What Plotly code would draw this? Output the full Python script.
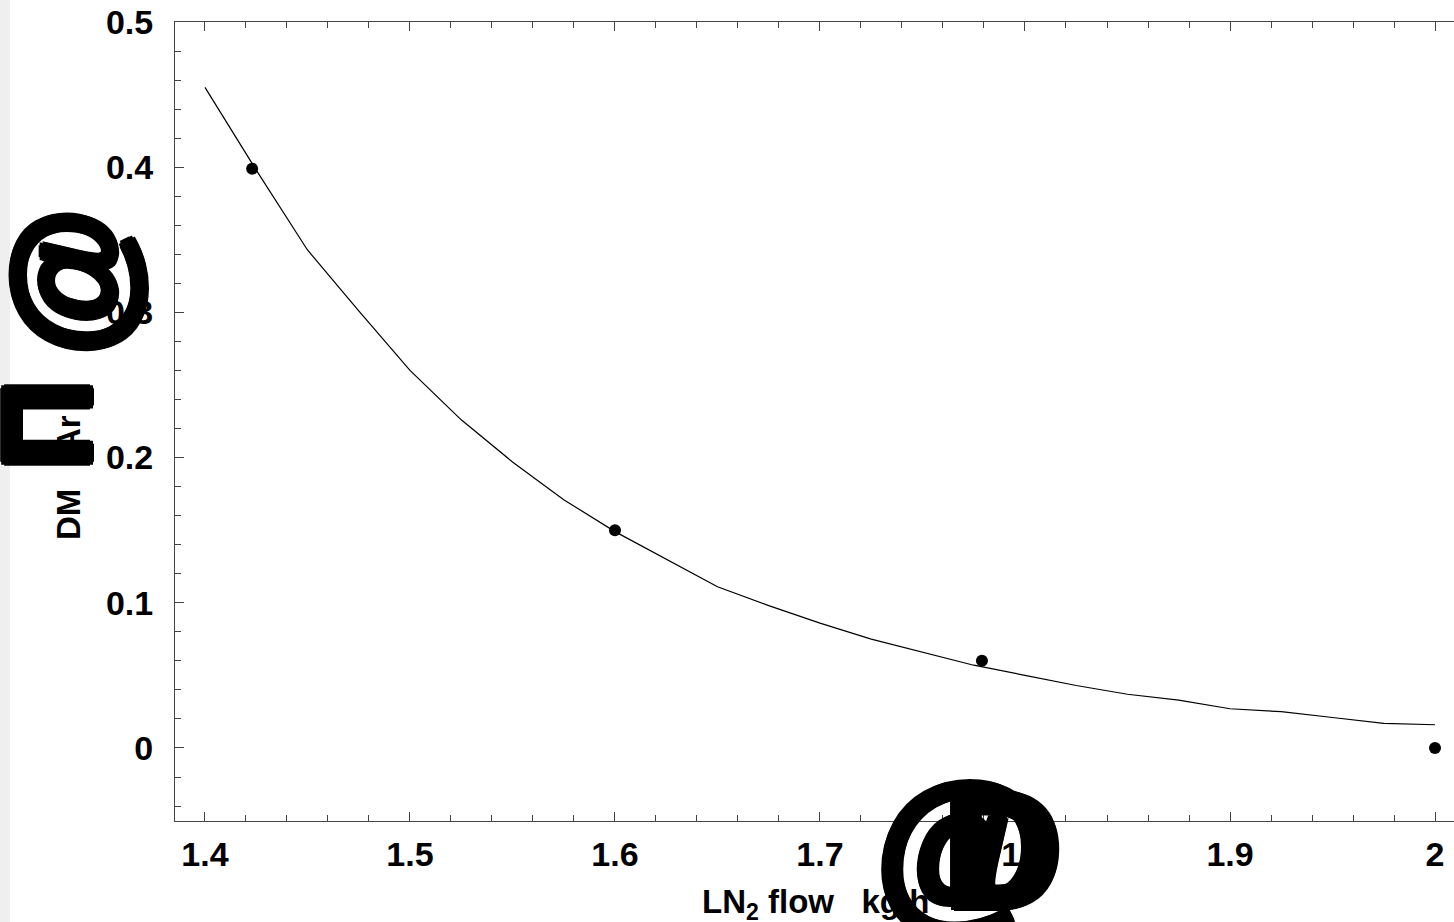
import plotly.graph_objects as go

# measured data points
pts_x = [1.423, 1.600, 1.779, 2.000]
pts_y = [0.399, 0.150, 0.060, 0.000]

# fitted curve samples
curve_x = [1.400, 1.425, 1.450, 1.475, 1.500, 1.525, 1.550, 1.575, 1.600, 1.625,
           1.650, 1.675, 1.700, 1.725, 1.750, 1.775, 1.800, 1.825, 1.850, 1.875,
           1.900, 1.925, 1.950, 1.975, 2.000]
curve_y = [0.455, 0.398, 0.343, 0.301, 0.260, 0.226, 0.197, 0.171, 0.149, 0.130,
           0.111, 0.098, 0.086, 0.075, 0.066, 0.057, 0.050, 0.043, 0.037, 0.033,
           0.027, 0.025, 0.021, 0.017, 0.016]

x_ticks = [1.4, 1.5, 1.6, 1.7, 1.8, 1.9, 2.0]
x_labels = ["1.4", "1.5", "1.6", "1.7", "1.8", "1.9", "2"]
y_ticks = [0, 0.1, 0.2, 0.3, 0.4, 0.5]
y_labels = ["0", "0.1", "0.2", "0.3", "0.4", "0.5"]

W, H = 1454, 922
L, R, T, B = 175, 0, 22, 101
PW, PH = W - L - R, H - T - B

def px(xp):
    return (xp - L) / PW

def py(yp):
    return (H - B - yp) / PH

FONT = "Liberation Sans, Arial, sans-serif"
THICK = ("4px 0 0 #000, -4px 0 0 #000, 0 4px 0 #000, 0 -4px 0 #000, "
         "3px 3px 0 #000, -3px -3px 0 #000, 3px -3px 0 #000, -3px 3px 0 #000")

fig = go.Figure()
fig.add_trace(go.Scatter(x=curve_x, y=curve_y, mode="lines",
                         line=dict(color="black", width=1.2), showlegend=False))
fig.add_trace(go.Scatter(x=pts_x, y=pts_y, mode="markers",
                         marker=dict(color="black", size=12), showlegend=False,
                         cliponaxis=False))

axis_common = dict(
    showgrid=False, zeroline=False, showline=True, linecolor="#444",
    linewidth=1, ticks="inside", ticklen=9, tickcolor="#444", tickwidth=1,
    tickfont=dict(family=FONT, size=34, color="black", weight="bold"),
)

fig.update_xaxes(
    range=[1.38537, 2.00927], tickvals=x_ticks, ticktext=x_labels,
    mirror="allticks", ticklabelstandoff=3,
    minor=dict(dtick=0.02, tick0=1.4, ticks="inside", ticklen=6, tickcolor="#444"),
    **axis_common)
fig.update_yaxes(
    range=[-0.0503, 0.5], tickvals=y_ticks, ticktext=y_labels,
    mirror=False, ticklabelstandoff=14,
    minor=dict(dtick=0.02, tick0=0, ticks="inside", ticklen=6, tickcolor="#444"),
    **axis_common)

bold = dict(family=FONT, color="black", weight="bold")
ann = []
# x-axis title
ann.append(dict(xref="paper", yref="paper", x=px(700), y=py(927), xanchor="left",
                yanchor="bottom", showarrow=False,
                text="LN<sub>2</sub> flow\u00a0\u00a0\u00a0kg\u00a0h",
                font=dict(size=33, **bold)))
# oversized bracket glyphs on x title
ann.append(dict(xref="paper", yref="paper", x=px(962), y=py(848), xanchor="center",
                yanchor="middle", showarrow=False, text="@",
                font=dict(size=178, shadow=THICK, **bold)))
ann.append(dict(xref="paper", yref="paper", x=px(1002), y=py(850), xanchor="center",
                yanchor="middle", showarrow=False, text="D",
                font=dict(size=165, shadow=THICK, **bold)))
# y-axis title
ann.append(dict(xref="paper", yref="paper", x=px(68), y=py(478), xanchor="center",
                yanchor="middle", showarrow=False, textangle=-90,
                text="DM\u00a0\u00a0\u00a0\u00a0Ar",
                font=dict(size=33, **bold)))
# oversized bracket glyphs on y title
ann.append(dict(xref="paper", yref="paper", x=px(68), y=py(282), xanchor="center",
                yanchor="middle", showarrow=False, textangle=-90, text="@",
                font=dict(size=152, shadow=THICK, **bold)))
ann.append(dict(xref="paper", yref="paper", x=px(46), y=py(425), xanchor="center",
                yanchor="middle", showarrow=False, textangle=-90, text="\u03a0",
                font=dict(size=125, shadow=THICK, **bold)))

fig.update_layout(
    width=W, height=H, margin=dict(l=L, r=R, t=T, b=B, pad=0),
    paper_bgcolor="white", plot_bgcolor="white",
    annotations=ann,
    shapes=[dict(type="rect", xref="paper", yref="paper", x0=px(0), x1=px(10),
                 y0=py(H), y1=py(0), fillcolor="#efefef", line=dict(width=0),
                 layer="below")],
)

fig.write_html("out.html", config={"displayModeBar": False},
               post_script="document.body.style.margin='0';")
